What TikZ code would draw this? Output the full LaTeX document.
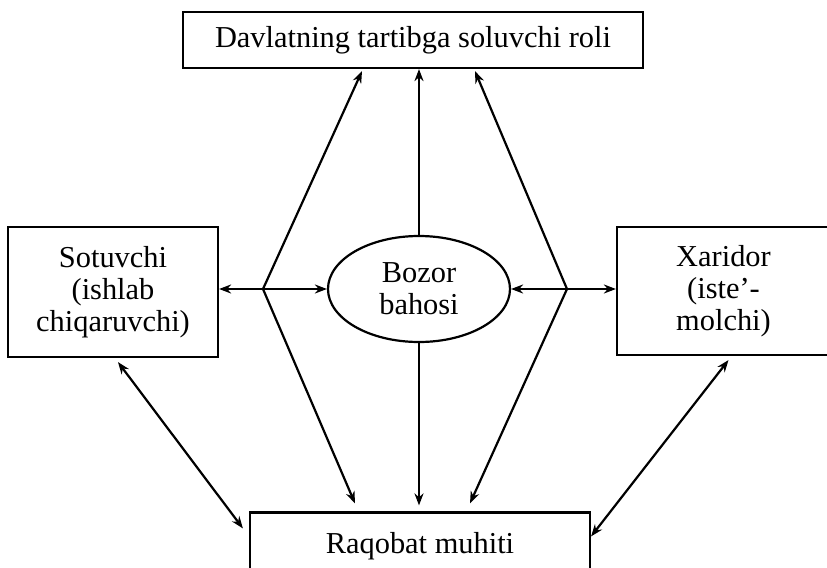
\documentclass[tikz,border=0pt]{standalone}
\usepackage{fontspec}
\setmainfont{Liberation Serif}
\usetikzlibrary{arrows.meta,shapes.geometric}
\tikzset{
  box/.style={draw,line width=1.1pt,inner sep=0pt,align=center},
  link/.style={line width=1.1pt,-{Stealth[length=6pt,width=4.5pt]}},
  twoway/.style={line width=1.1pt,{Stealth[length=6pt,width=4.5pt]}-{Stealth[length=6pt,width=4.5pt]}}
}
\begin{document}
\begin{tikzpicture}[x=0.5pt,y=-0.5pt,font=\fontsize{15.2}{16}\selectfont]
\useasboundingbox (0,0) rectangle (827,568);
\node[box,minimum width=230pt,minimum height=28pt] (davlat) at (413,40) {Davlatning tartibga soluvchi roli};
\node[box,minimum width=105pt,minimum height=65pt] (sotuvchi) at (113,292) {Sotuvchi\\(ishlab\\chiqaruvchi)};
\node[box,minimum width=106.5pt,minimum height=64pt] (xaridor) at (723.5,291) {Xaridor\\(iste'-\\molchi)};
\node[draw,ellipse,line width=1.1pt,inner sep=0pt,minimum width=91pt,minimum height=53pt,align=center] (bozor) at (419,289) {Bozor\\bahosi};
\node[box,minimum width=170pt,minimum height=43.5pt,
  label={[anchor=north,yshift=-7pt]north:Raqobat muhiti}] (raqobat) at (420,556) {};
\coordinate (jl) at (263,289);
\coordinate (jr) at (567,289);
% left fork
\draw[link] (jl) -- ([xshift=-25.5pt,yshift=-1pt]davlat.south);
\draw[link] (jl) -- ([xshift=-32.5pt,yshift=4pt]raqobat.north);
\draw[link] (jl) -- (jl -| sotuvchi.east);
\draw[link] (jl) -- (bozor.west);
% right fork
\draw[link] (jr) -- ([xshift=31pt,yshift=-1pt]davlat.south);
\draw[link] (jr) -- ([xshift=25pt,yshift=4pt]raqobat.north);
\draw[link] (jr) -- (jr -| xaridor.west);
\draw[link] (jr) -- (bozor.east);
% middle
\draw[link] (bozor.north) -- (bozor.north |- davlat.south);
\draw[link] (bozor.south) -- ([yshift=3pt]bozor.south |- raqobat.north);
% outer
\draw[twoway] ([xshift=2.5pt,yshift=-2pt]sotuvchi.south) -- ([shift={(-3pt,-8.5pt)}]raqobat.north west);
\draw[twoway] ([xshift=2.5pt,yshift=-2pt]xaridor.south) -- ([yshift=-12.5pt]raqobat.north east);
\end{tikzpicture}
\end{document}
